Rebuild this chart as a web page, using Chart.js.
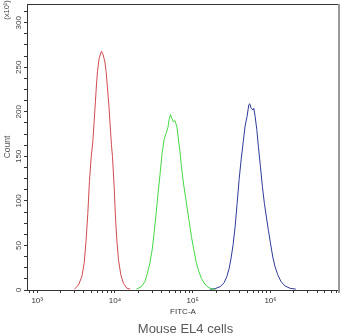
<!DOCTYPE html>
<html><head><meta charset="utf-8">
<script src="https://cdn.jsdelivr.net/npm/chart.js@4/dist/chart.umd.min.js"></script>
<style>html,body{margin:0;padding:0;background:#fff}</style>
</head><body>
<canvas id="c" width="350" height="336" style="display:block;width:350px;height:336px"></canvas>
<script>
// ---- data ----
const xMin = 740, xMax = 7.6e6;           // FITC-A axis range (log)
const yMin = 0, yMax = 321;               // Count axis range (x10)
const xTickValues = [1e3, 1e4, 1e5, 1e6];
const xTickLabels = ['10³', '10⁴', '10⁵', '10⁶'];
const yTickStep = 12.5, yLabelStep = 50;

const redX = [3020, 3400, 3750, 4020, 4260, 4480, 4700, 4940, 5200, 5400, 5615, 5783, 5957, 6264, 6706, 7052, 7418, 7706, 8008, 8350, 8677, 9016, 9290, 9770, 10150, 10580, 11090, 11910, 12860, 14220, 15680];
const redY = [1, 5.6, 15, 30, 56, 86, 122, 148, 167, 189, 212, 230, 245, 260, 268, 264, 256, 245, 227, 208, 185, 163, 150, 116, 82, 56, 34, 17, 7.5, 2, 1];

const greenX = [18890, 21900, 24230, 26170, 28100, 30080, 31910, 33850, 35920, 38110, 40440, 42910, 45510, 47850, 49740, 51690, 53870, 55980, 58880, 62460, 64910, 68270, 71580, 75960, 80590, 85500, 90710, 96230, 103300, 111580, 119800, 129360, 143000, 157700, 177600, 195800];
const greenY = [1, 3.7, 9.3, 18.8, 30, 45, 64, 86, 109, 131, 154, 169, 176, 182, 191, 197, 193, 189, 190, 184, 172, 157, 139, 120, 105, 90, 75, 60, 45, 30, 21, 13, 6.7, 3, 1.1, 0.8];

const blueX = [167400, 194100, 225000, 253200, 274400, 293800, 311700, 330700, 350800, 372200, 394900, 419000, 444500, 471600, 500400, 526200, 542000, 563200, 592300, 610000, 633900, 666700, 698900, 741700, 786900, 834900, 885800, 939700, 997000, 1070500, 1146000, 1241000, 1368000, 1540000, 1786000, 2115000];
const blueY = [0.8, 1.5, 3.7, 8.2, 15, 24, 36, 51, 71, 97, 124, 146, 165, 184, 195, 208, 209, 204, 202, 204, 195, 180, 161, 139, 116, 97, 82, 67, 53, 37, 26, 17, 9.3, 4.5, 1.9, 1];

const chartTitle = 'Mouse EL4 cells';
const xTitle = 'FITC-A';
const yTitle = 'Count';
const yUnit = '(x10¹)';

// ---- chart ----
const toPts = (xs, ys) => xs.map((x, i) => ({ x: x, y: ys[i] }));

const framePlugin = {
  id: 'frame',
  afterDraw(chart) {
    const { ctx, chartArea: a } = chart;
    ctx.save();
    ctx.strokeStyle = '#333'; ctx.lineWidth = 1;
    ctx.beginPath(); ctx.moveTo(a.left, a.top + 0.5); ctx.lineTo(a.right, a.top + 0.5); ctx.stroke();
    ctx.strokeStyle = '#9a9a9a'; ctx.lineWidth = 2;
    ctx.beginPath(); ctx.moveTo(a.right, a.top); ctx.lineTo(a.right, a.bottom + 3); ctx.stroke();
    // unit label
    ctx.fillStyle = '#444';
    ctx.font = '7.5px "Liberation Sans", Arial, sans-serif';
    ctx.textAlign = 'center'; ctx.textBaseline = 'middle';
    ctx.translate(6.5, 10); ctx.rotate(-Math.PI / 2);
    ctx.fillText(yUnit, 0, 0);
    ctx.restore();
    ctx.save();
    ctx.fillStyle = '#5a5a5a';
    ctx.font = '13px "Liberation Sans Narrow", "Arial Narrow", "Liberation Sans", sans-serif';
    ctx.textAlign = 'center'; ctx.textBaseline = 'middle';
    ctx.fillText(chartTitle, 185.5, 329);
    ctx.restore();
  }
};

new Chart(document.getElementById('c'), {
  type: 'line',
  data: {
    datasets: [
      { data: toPts(redX, redY), borderColor: '#d24a50', borderWidth: 1 },
      { data: toPts(greenX, greenY), borderColor: '#44d844', borderWidth: 1 },
      { data: toPts(blueX, blueY), borderColor: '#2e3a9a', borderWidth: 1 }
    ]
  },
  options: {
    responsive: false,
    animation: false,
    devicePixelRatio: 1,
    layout: { padding: { top: 4, right: 11, left: 0, bottom: 0 } },
    elements: { point: { radius: 0 }, line: { tension: 0 } },
    plugins: { legend: { display: false }, tooltip: { enabled: false }, title: { display: false } },
    scales: {
      x: {
        type: 'logarithmic', min: xMin, max: xMax,
        afterFit(s) { s.height = 46; },
        afterBuildTicks(s) {
          const t = [];
          for (let e = 2; e <= 6; e++) for (let k = 1; k <= 9; k++) {
            const v = k * Math.pow(10, e);
            if (v >= xMin && v <= xMax) t.push({ value: v, major: k === 1 });
          }
          s.ticks = t;
        },
        ticks: {
          autoSkip: false, minRotation: 0, maxRotation: 0, padding: 3,
          font: { size: 8, family: '"Liberation Sans", Arial, sans-serif' }, color: '#333',
          callback(v) { const i = xTickValues.indexOf(v); return i >= 0 ? xTickLabels[i] : ''; }
        },
        grid: { display: true, drawOnChartArea: false, drawTicks: true, tickLength: 3, tickColor: '#333' },
        border: { display: true, color: '#333', width: 1 },
        title: { display: true, text: xTitle, color: '#333', font: { size: 8, family: '"Liberation Sans", Arial, sans-serif' }, padding: { top: 0, bottom: 19.5 } }
      },
      y: {
        type: 'linear', min: yMin, max: yMax,
        afterFit(s) { s.width = 27; },
        ticks: {
          stepSize: yTickStep, includeBounds: false, autoSkip: false,
          minRotation: 90, maxRotation: 90, crossAlign: 'center', padding: -1,
          font: { size: 8, family: '"Liberation Sans", Arial, sans-serif' }, color: '#444',
          callback(v) { return (v % yLabelStep === 0) ? String(v) : ''; }
        },
        grid: { display: true, drawOnChartArea: false, drawTicks: true, tickLength: 3, tickColor: '#333' },
        border: { display: true, color: '#333', width: 1 },
        title: { display: true, text: yTitle, color: '#555', font: { size: 8.5, family: '"Liberation Sans", Arial, sans-serif' }, padding: { top: 2.4, bottom: 0 } }
      }
    }
  },
  plugins: [framePlugin]
});
</script>
</body></html>
